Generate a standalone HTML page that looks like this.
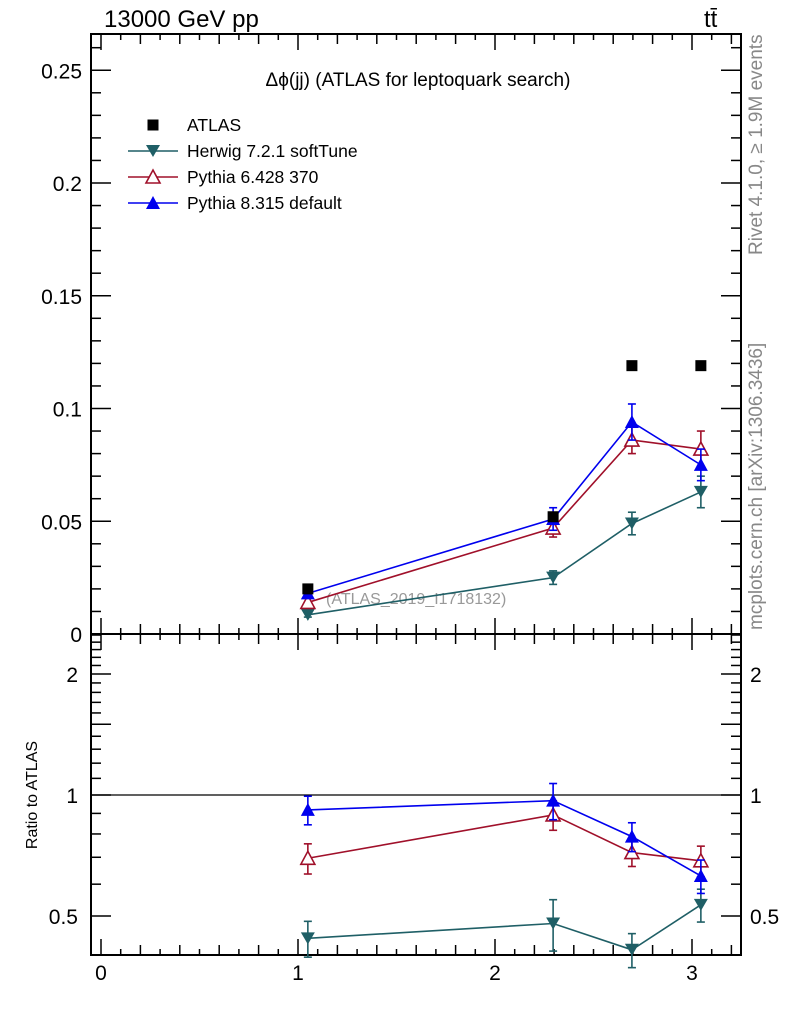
<!DOCTYPE html>
<html><head><meta charset="utf-8"><style>
body{margin:0;background:#fff;}
svg{display:block;font-family:"Liberation Sans",sans-serif;}
</style></head><body>
<svg id="c" width="786" height="1024" viewBox="0 0 786 1024" xmlns="http://www.w3.org/2000/svg">
<rect width="786" height="1024" fill="#fff"/>
<g id="g"></g>
</svg>
<script>
const xs=[1.05,2.295,2.695,3.045];
const atlas=[0.020,0.052,0.119,0.119];
const herwig=[0.0085,0.025,0.049,0.063];
const herwigErr=[0.001,0.003,0.005,0.007];
const py6=[0.014,0.047,0.086,0.082];
const py6Err=[0.002,0.004,0.006,0.008];
const py8=[0.018,0.051,0.094,0.075];
const py8Err=[0.002,0.005,0.008,0.007];
const rHerwig=[0.44,0.479,0.412,0.533];
const rHerwigErr=[0.045,0.07,0.04,0.05];
const rPy6=[0.696,0.892,0.719,0.686];
const rPy6Err=[0.06,0.075,0.055,0.06];
const rPy8=[0.918,0.968,0.788,0.629];
const rPy8Err=[0.075,0.10,0.065,0.06];
const yTicks=[0,0.05,0.1,0.15,0.2,0.25];
const yTickLabels=["0","0.05","0.1","0.15","0.2","0.25"];
const xTicks=[0,1,2,3];
const rTicks=[0.5,1,2];

const L=91,R=741,T=34,M=634,B=955;
const X=v=>101+v*197;
const Y=v=>634-v*2255;
const RY=v=>795-Math.log10(v)*402;
const g=document.getElementById('g');
const NS='http://www.w3.org/2000/svg';
function el(t,a,p){const e=document.createElementNS(NS,t);for(const k in a)e.setAttribute(k,a[k]);(p||g).appendChild(e);return e;}
function txt(s,a,p){const e=el('text',a,p);e.textContent=s;return e;}

const f1=el('rect',{x:L,y:T,width:R-L,height:M-T,fill:'none',stroke:'#000','stroke-width':2});

const f2=el('rect',{x:L,y:M,width:R-L,height:B-M,fill:'none',stroke:'#000','stroke-width':2});


for(let i=0;i<=32;i++){const v=i/10;const x=X(v);if(x>R)break;
 const len=(i%10==0)?16:(i%2==0?10:6);
 el('line',{x1:x,x2:x,y1:T,y2:T+len,stroke:'#000','stroke-width':1.5});
 el('line',{x1:x,x2:x,y1:M-len,y2:M+len,stroke:'#000','stroke-width':1.5});
 el('line',{x1:x,x2:x,y1:B,y2:B-len,stroke:'#000','stroke-width':1.5});}
xTicks.forEach(v=>{const t=txt(String(v),{x:X(v),y:980,'font-size':21,'text-anchor':'middle'});
 });

for(let i=0;i<=26;i++){const v=i/100;const y=Y(v);if(y<T)break;const len=(i%5==0)?20:10;
 el('line',{x1:L,x2:L+len,y1:y,y2:y,stroke:'#000','stroke-width':1.5});
 el('line',{x1:R,x2:R-len,y1:y,y2:y,stroke:'#000','stroke-width':1.5});}
yTicks.forEach((v,i)=>{const t=txt(yTickLabels[i],{x:82,y:Y(v)+8,'font-size':21,'text-anchor':'end'});
 });

const rMinor=[0.4,0.5,0.6,0.7,0.8,0.9,1,1.1,1.2,1.3,1.4,1.5,1.6,1.7,1.8,1.9,2,2.1,2.2,2.3,2.4,2.5];
rMinor.forEach(v=>{const y=RY(v);if(y<M||y>B)return;const len=(v==0.5||v==1||v==2||v==1.5)?20:10;
 el('line',{x1:L,x2:L+len,y1:y,y2:y,stroke:'#000','stroke-width':1.5});
 el('line',{x1:R,x2:R-len,y1:y,y2:y,stroke:'#000','stroke-width':1.5});});
rTicks.forEach(v=>{const y=RY(v)+8;
 const a=txt(String(v),{x:78,y:y,'font-size':21,'text-anchor':'end'});
 const b=txt(String(v),{x:750,y:y,'font-size':21});});
el('line',{x1:L,x2:R,y1:RY(1),y2:RY(1),stroke:'#000','stroke-width':1.2});

let t;
t=txt('13000 GeV pp',{x:104,y:27,'font-size':24});
t=txt('tt̄',{x:704,y:27,'font-size':24});
t=txt('Δϕ(jj) (ATLAS for leptoquark search)',{x:418,y:86,'font-size':19,'text-anchor':'middle'});
t=txt('(ATLAS_2019_I1718132)',{x:326,y:604,'font-size':16,fill:'#999'});
t=txt('Rivet 4.1.0, ≥ 1.9M events',{x:0,y:0,'font-size':19,fill:'#888',transform:'translate(762,255) rotate(-90)'});
t=txt('mcplots.cern.ch [arXiv:1306.3436]',{x:0,y:0,'font-size':19,fill:'#888',transform:'translate(762,630) rotate(-90)'});
t=txt('Ratio to ATLAS',{x:0,y:0,'font-size':16,'text-anchor':'middle',transform:'translate(37,795) rotate(-90)'});

function marker(type,x,y,c){
 if(type=='sq')return el('rect',{x:x-5.5,y:y-5.5,width:11,height:11,fill:c});
 if(type=='down')return el('polygon',{points:`${x-7},${y-6} ${x+7},${y-6} ${x},${y+6}`,fill:c});
 if(type=='up')return el('polygon',{points:`${x-7},${y+6} ${x+7},${y+6} ${x},${y-7}`,fill:c});
 if(type=='open')return el('polygon',{points:`${x-7},${y+6} ${x+7},${y+6} ${x},${y-7}`,fill:'#fff',stroke:c,'stroke-width':1.6});}
function series(name,vals,errs,ymap,c,type){
 const pts=vals.map((v,i)=>X(xs[i])+','+ymap(v)).join(' ');
 const p=el('polyline',{points:pts,fill:'none',stroke:c,'stroke-width':1.6});
 
 vals.forEach((v,i)=>{const x=X(xs[i]);const y1=ymap(v+errs[i]),y2=ymap(Math.max(v-errs[i],0.001));
  el('line',{x1:x,x2:x,y1:y1,y2:y2,stroke:c,'stroke-width':1.6});
  el('line',{x1:x-4,x2:x+4,y1:y1,y2:y1,stroke:c,'stroke-width':1.6});
  el('line',{x1:x-4,x2:x+4,y1:y2,y2:y2,stroke:c,'stroke-width':1.6});
  const m=marker(type,x,ymap(v),c);});}
const cH='#1f5f66',c6='#a0102a',c8='#0000ee';
series('herwig',herwig,herwigErr,Y,cH,'down');
series('pythia6',py6,py6Err,Y,c6,'open');
series('pythia8',py8,py8Err,Y,c8,'up');
atlas.forEach((v,i)=>{const m=marker('sq',X(xs[i]),Y(v),'#000');});
series('ratio-herwig',rHerwig,rHerwigErr,RY,cH,'down');
series('ratio-pythia6',rPy6,rPy6Err,RY,c6,'open');
series('ratio-pythia8',rPy8,rPy8Err,RY,c8,'up');

const leg=[['ATLAS','#000','sq'],['Herwig 7.2.1 softTune',cH,'down'],['Pythia 6.428 370',c6,'open'],['Pythia 8.315 default',c8,'up']];
leg.forEach((l,i)=>{const y=125+i*26;
 if(i>0){el('line',{x1:128,x2:178,y1:y,y2:y,stroke:l[1],'stroke-width':1.6});}
 const m=marker(l[2],153,y,l[1]);
 const tt=txt(l[0],{x:187,y:y+6,'font-size':17.5});});
</script>
</body></html>
